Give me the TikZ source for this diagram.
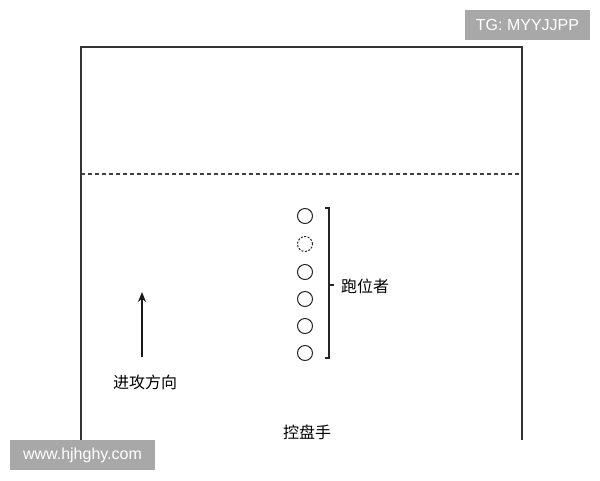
\documentclass[tikz,border=0pt]{standalone}
\usepackage{fontspec}
\setmainfont{Liberation Sans}
\newfontfamily\cjk{Noto Sans CJK SC}
\usetikzlibrary{arrows.meta}
\begin{document}
\begin{tikzpicture}[x=1pt,y=-1pt,
  frame/.style={draw=black!80,line width=1.3pt},
  player/.style={circle,draw=black!85,line width=1pt,minimum size=15pt,inner sep=0pt},
  ghost/.style={player,dashed,dash pattern=on 2pt off 1.5pt},
  lbl/.style={font=\cjk\fontsize{16}{18}\selectfont,text=black,inner sep=0pt},
  wm/.style={fill=black!34,text=white,font=\fontsize{16}{18}\selectfont,inner sep=0pt}]
\useasboundingbox (0,0) rectangle (600,480);
% frame
\coordinate (bl) at (81,440);
\coordinate (tl) at (81,47);
\coordinate (tr) at (522,47);
\coordinate (br) at (522,440);
\draw[frame] (bl) -- (tl) -- (tr) -- (br);
\coordinate (dl) at (81,174);
\coordinate (dr) at (522,174);
\draw[black!75,line width=1.1pt,dash pattern=on 4pt off 3pt] (dl) -- (dr);
% players
\node[player] (p1) at (305,216) {};
\node[ghost]  (p2) at (305,244) {};
\node[player] (p3) at (305,272) {};
\node[player] (p4) at (305,299) {};
\node[player] (p5) at (305,326) {};
\node[player] (p6) at (305,353) {};
% bracket
\coordinate (bt) at (329,208);
\coordinate (bb) at (329,358);
\coordinate (bm) at (329,285);
\draw[black!85,line width=1.2pt] ([xshift=-4]bt) -- (bt) -- (bb) -- ([xshift=-4]bb);
\draw[black!85,line width=1.2pt] (bm) -- ([xshift=5]bm);
\node[lbl,anchor=west] (runner) at (341,286) {跑位者};
% arrow
\coordinate (as) at (142,357);
\coordinate (ae) at (142,292);
\draw[black!90,line width=1.1pt,-{Stealth[length=10pt,width=8pt]}] (as) -- (ae);
\node[lbl] (dir) at (145,382) {进攻方向};
\node[lbl] (handler) at (307,432) {控盘手};
% watermarks
\node[wm,minimum width=125pt,minimum height=30pt] (w1) at (527.5,25) {TG: MYYJJPP};
\node[wm,minimum width=145pt,minimum height=30pt] (w2) at (82.5,455) {www.hjhghy.com};
\end{tikzpicture}
\end{document}
